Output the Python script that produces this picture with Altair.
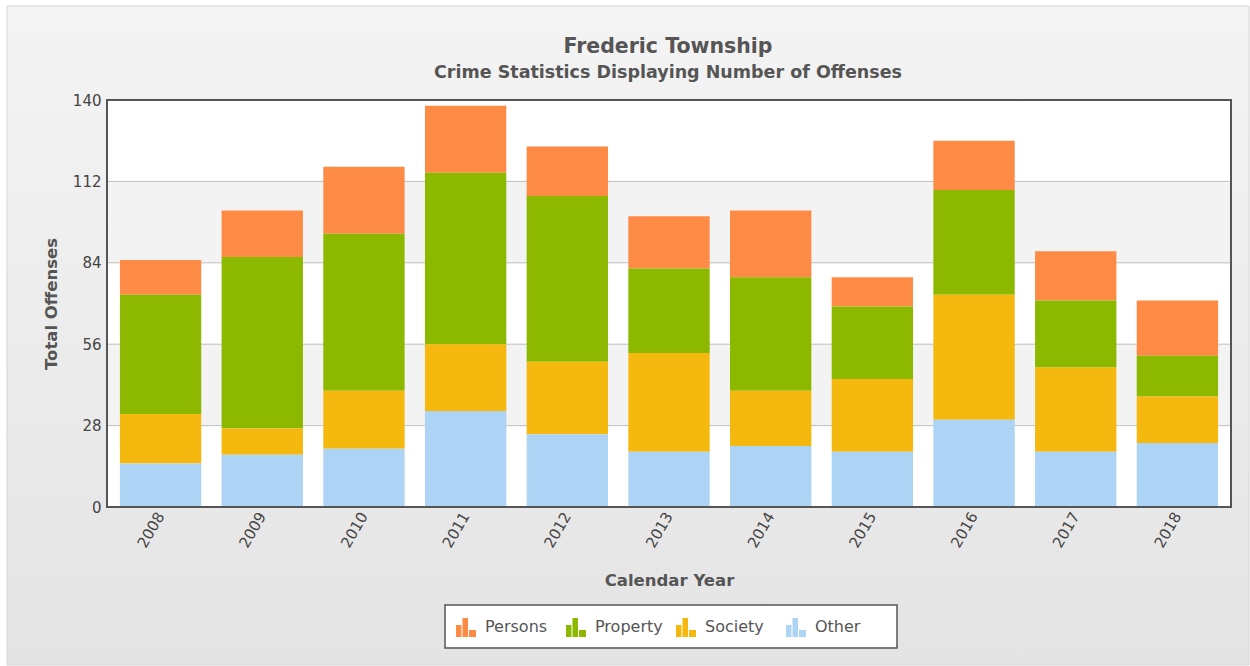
import altair as alt
import pandas as pd

years = ["2008", "2009", "2010", "2011", "2012", "2013", "2014", "2015", "2016", "2017", "2018"]
categories = ["Persons", "Property", "Society", "Other"]
persons = [12, 16, 23, 23, 17, 18, 23, 10, 17, 17, 19]
property_ = [41, 59, 54, 59, 57, 29, 39, 25, 36, 23, 14]
society = [17, 9, 20, 23, 25, 34, 19, 25, 43, 29, 16]
other = [15, 18, 20, 33, 25, 19, 21, 19, 30, 19, 22]
colors = ["#FD8B45", "#8DB800", "#F5B80F", "#ADD4F5"]
stack_rank = [3, 2, 1, 0]
y_ticks = [0, 28, 56, 84, 112, 140]
band_lo = [28, 84]
band_hi = [56, 112]
title_text = "Frederic Township"
subtitle_text = "Crime Statistics Displaying Number of Offenses"

series = {"Persons": persons, "Property": property_, "Society": society, "Other": other}
rows = []
for cat, rank in zip(categories, stack_rank):
    for yr, v in zip(years, series[cat]):
        rows.append({"year": yr, "category": cat, "value": v, "rank": rank})
df = pd.DataFrame(rows)
bands = pd.DataFrame({"lo": band_lo, "hi": band_hi})
grid = pd.DataFrame({"t": y_ticks[1:-1]})
one = pd.DataFrame({"a": [0]})

W, H = 1124, 407
FONT = "DejaVu Sans"

yscale = alt.Scale(domain=[0, 140], nice=False)

bg = alt.Chart(one).mark_rect(
    fill=alt.Gradient(gradient="linear", x1=0, y1=0, x2=0, y2=1,
                      stops=[alt.GradientStop(offset=0, color="#f4f4f4"),
                             alt.GradientStop(offset=1, color="#e4e4e4")]),
    stroke="#d6d6d6", strokeWidth=1
).encode(x=alt.value(-100), x2=alt.value(1142), y=alt.value(-94), y2=alt.value(565))

legend_box = alt.Chart(one).mark_rect(fill="white", stroke="#555", strokeWidth=1.5).encode(
    x=alt.value(338), x2=alt.value(790), y=alt.value(505), y2=alt.value(548))

title_mark = alt.Chart(one).mark_text(
    font=FONT, fontSize=20.5, fontWeight="bold", color="#555", align="center", baseline="middle"
).encode(x=alt.value(561), y=alt.value(-53), text=alt.value(title_text))

subtitle_mark = alt.Chart(one).mark_text(
    font=FONT, fontSize=17.5, fontWeight="bold", color="#555", align="center", baseline="middle"
).encode(x=alt.value(561), y=alt.value(-27), text=alt.value(subtitle_text))

plotbg = alt.Chart(one).mark_rect(fill="white").encode(
    x=alt.value(0), x2=alt.value(W), y=alt.value(0), y2=alt.value(H))

band_layer = alt.Chart(bands).mark_rect(fill="#f3f3f3").encode(
    y=alt.Y("lo:Q", scale=yscale), y2="hi:Q")

grid_layer = alt.Chart(grid).mark_rule(color="#bfbfbf", strokeWidth=1).encode(
    y=alt.Y("t:Q", scale=yscale))

bars = alt.Chart(df).mark_bar().encode(
    x=alt.X("year:N", sort=years,
            scale=alt.Scale(paddingInner=0.2, paddingOuter=0.127),
            axis=alt.Axis(title="Calendar Year", labelAngle=-60, labelAlign="right",
                          labelBaseline="middle", labelFontSize=15, labelColor="#444",
                          labelFont=FONT, ticks=False, domain=False, labelPadding=6,
                          titleFont=FONT, titleFontSize=16.5, titleColor="#555",
                          titleFontWeight="bold", titlePadding=22, zindex=2)),
    y=alt.Y("value:Q", stack="zero", scale=yscale,
            axis=alt.Axis(title="Total Offenses", values=y_ticks, grid=False,
                          ticks=False, domain=False, labelFontSize=15, labelColor="#444",
                          labelFont=FONT, labelPadding=6, titleFont=FONT,
                          titleFontSize=16.5, titleColor="#555", titleFontWeight="bold",
                          titlePadding=13, zindex=2)),
    color=alt.Color("category:N", sort=categories,
                    scale=alt.Scale(domain=categories, range=colors),
                    legend=alt.Legend(title=None, orient="none", legendX=337, legendY=505,
                                      direction="horizontal",
                                      padding=11,
                                      labelFont=FONT, labelFontSize=16, labelColor="#555",
                                      labelOffset=8, columnPadding=12, gridAlign="all",
                                      symbolSize=400,
                                      symbolType="M-1,1L-1,-0.2L-0.45,-0.2L-0.45,1ZM-0.35,1L-0.35,-0.9L0.2,-0.9L0.2,1ZM0.3,1L0.3,0.3L1,0.3L1,1Z")),
    order=alt.Order("rank:Q", sort="ascending"),
)

border = alt.Chart(one).mark_rect(fillOpacity=0, stroke="#555", strokeWidth=2).encode(
    x=alt.value(0), x2=alt.value(W), y=alt.value(0), y2=alt.value(H))

chart = alt.layer(bg, legend_box, title_mark, subtitle_mark, plotbg, band_layer, grid_layer,
                  bars, border).properties(
    width=W, height=H,
    autosize=alt.AutoSizeParams(type="none"),
    padding={"left": 107, "top": 100, "right": 19, "bottom": 159},
    background="white",
).configure_view(stroke=None)

chart.save("out.html", embed_options={"renderer": "svg", "actions": False})
